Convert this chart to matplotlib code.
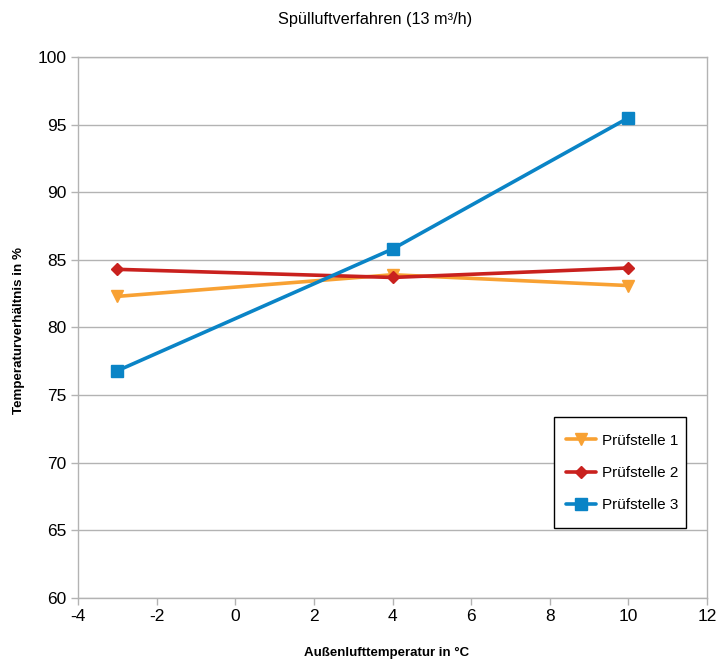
import matplotlib
matplotlib.use("Agg")
import matplotlib.pyplot as plt
from matplotlib.patches import Rectangle

plt.rcParams['font.family'] = ['Liberation Sans', 'DejaVu Sans']

temps = [-3, 4, 10]
pruefstelle_1 = [82.3, 83.9, 83.1]
pruefstelle_2 = [84.3, 83.7, 84.4]
pruefstelle_3 = [76.8, 85.8, 95.5]
series_names = ["Prüfstelle 1", "Prüfstelle 2", "Prüfstelle 3"]
colors = ["#f8a133", "#c9211e", "#0a84c6"]
markers = ["v", "D", "s"]
marker_sizes = [9, 6, 8]
x_ticks = [-4, -2, 0, 2, 4, 6, 8, 10, 12]
y_ticks = [60, 65, 70, 75, 80, 85, 90, 95, 100]

fig = plt.figure(figsize=(7.19, 6.62), dpi=100)
ax = fig.add_axes([0.1085, 0.0967, 0.8748, 0.8172])

grid_c = "#b3b3b3"
for series, name, c, m, ms in zip([pruefstelle_1, pruefstelle_2, pruefstelle_3],
                                  series_names, colors, markers, marker_sizes):
    ax.plot(temps, series, color=c, lw=2.6, marker=m, markersize=ms,
            label=name, zorder=3, solid_capstyle="round")

ax.set_xlim(-4, 12)
ax.set_ylim(60, 100)
ax.set_xticks(x_ticks)
ax.set_yticks(y_ticks)
ax.set_xticklabels([str(v) for v in x_ticks])
ax.set_yticklabels([str(v) for v in y_ticks])
ax.yaxis.grid(True, color=grid_c, lw=1)
ax.set_axisbelow(True)
for s in ax.spines.values():
    s.set_color(grid_c)
    s.set_linewidth(1)
ax.tick_params(axis="both", colors=grid_c, labelcolor="#000000", labelsize=12.5,
               length=5, width=1)
ax.tick_params(axis="x", pad=3)

fig.text(0.538, 0.0136, "Außenlufttemperatur in °C", ha="center", va="center",
         fontsize=9.5, fontweight="bold")
fig.text(0.0264, 0.50, "Temperaturverhältnis in %", ha="center", va="center",
         rotation=90, fontsize=9.6, fontweight="bold")
fig.text(0.522, 0.971, "Spülluftverfahren (13 m³/h)", ha="center", va="center",
         fontsize=11.7)

# legend box drawn as its own frame, entries centred inside it
ax.add_patch(Rectangle((0.7568, 0.1294), 0.2098, 0.2052, transform=ax.transAxes,
                       facecolor="white", edgecolor="#000000", lw=1, zorder=4))
leg = ax.legend(loc="center", bbox_to_anchor=(0.8649, 0.2310), frameon=False,
                fontsize=11, handlelength=2.0, labelspacing=1.2, borderpad=0,
                handletextpad=0.35, borderaxespad=0)
leg.set_zorder(5)

fig.savefig("out.png", dpi=100, facecolor="white")
